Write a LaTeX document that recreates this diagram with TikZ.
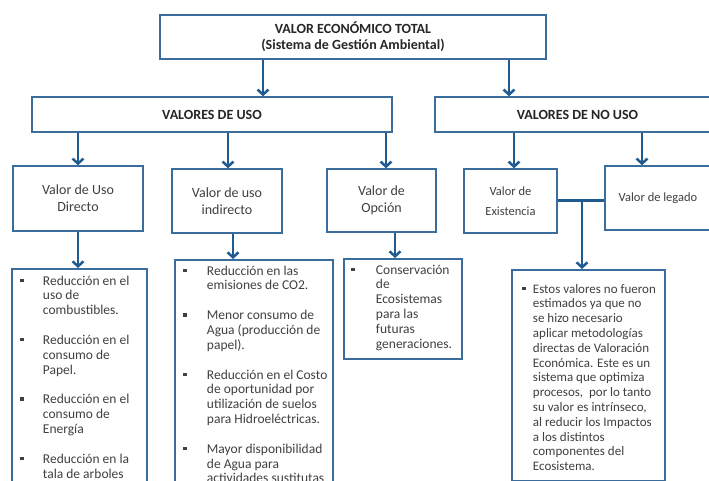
\documentclass[tikz,border=0pt]{standalone}
\usepackage{fontspec}
\setmainfont{Carlito}
\usetikzlibrary{arrows.meta}
\definecolor{boxblue}{HTML}{3A6D9B}
\definecolor{arrowblue}{HTML}{1F5A91}
\definecolor{txtgray}{HTML}{404040}
\newcommand{\bul}{\rule[3pt]{3.5pt}{3.5pt}}
\begin{document}
\begin{tikzpicture}[x=1pt,y=-1pt,
    box/.style={draw=boxblue, line width=1.5pt, fill=white, align=center, text=txtgray, inner sep=0pt},
    head/.style={box, font=\fontsize{14}{16}\selectfont\bfseries, text=black!85},
    sub/.style={box, font=\fontsize{14}{17}\selectfont},
    arr/.style={draw=arrowblue, line width=2.5pt, -{Straight Barb[length=5pt,width=11pt]}},
    lst/.style={anchor=base west, inner sep=0pt, align=left, text=txtgray, font=\fontsize{13.5}{14.8}\selectfont}]
  \useasboundingbox (0,0) rectangle (709,481);
  % nivel 1 y 2
  \node[head, minimum width=386, minimum height=44] (total) at (353,37) {VALOR ECONÓMICO TOTAL\\(Sistema de Gestión Ambiental)};
  \node[head, minimum width=360, minimum height=35] (uso) at (212,114.5) {VALORES DE USO};
  \node[head, minimum width=285, minimum height=35] (nouso) at (577.5,114.5) {VALORES DE NO USO};
  % nivel 3
  \node[sub, minimum width=130, minimum height=65] (directo) at (78,198.5) {Valor de Uso\\Directo};
  \node[sub, minimum width=110, minimum height=64] (indirecto) at (227,201) {Valor de uso\\indirecto};
  \node[sub, minimum width=109, minimum height=63] (opcion) at (381.5,200.5) {Valor de\\Opción};
  \node[box, minimum width=93, minimum height=64, font=\fontsize{12.5}{20}\selectfont] (existencia) at (510.5,201) {Valor de\\Existencia};
  \node[box, minimum width=106, minimum height=64, font=\fontsize{12.5}{15}\selectfont] (legado) at (658,198) {Valor de legado};
  % listas
  \node[box, minimum width=135, minimum height=240, anchor=north west] (ldirecto) at (11,268) {};
  \node[box, minimum width=158, minimum height=250, anchor=north west] (lindirecto) at (174,259) {};
  \node[box, minimum width=118, minimum height=100, anchor=north west] (lopcion) at (343,258) {};
  \node[box, minimum width=153, minimum height=211, anchor=north west] (lnouso) at (511,269) {};
  \node[lst] (tdirecto) at ([xshift=9.25pt,yshift=-17pt]ldirecto.north west) {\begin{tabular}[t]{@{}l@{\hspace{19pt}}l@{}}
    \bul & Reducción en el\\ & uso de\\ & combustibles.\\[15pt]
    \bul & Reducción en el\\ & consumo de\\ & Papel.\\[15pt]
    \bul & Reducción en el\\ & consumo de\\ & Energía\\[15pt]
    \bul & Reducción en la\\ & tala de arboles
  \end{tabular}};
  \node[lst] (tindirecto) at ([xshift=9.25pt,yshift=-16pt]lindirecto.north west) {\begin{tabular}[t]{@{}l@{\hspace{20pt}}l@{}}
    \bul & Reducción en las\\ & emisiones de CO2.\\[15pt]
    \bul & Menor consumo de\\ & Agua (producción de\\ & papel).\\[15pt]
    \bul & Reducción en el Costo\\ & de oportunidad por\\ & utilización de suelos\\ & para Hidroeléctricas.\\[15pt]
    \bul & Mayor disponibilidad\\ & de Agua para\\ & actividades sustitutas
  \end{tabular}};
  \node[lst] (topcion) at ([xshift=8.25pt,yshift=-16pt]lopcion.north west) {\begin{tabular}[t]{@{}l@{\hspace{21pt}}l@{}}
    \bul & Conservación\\ & de\\ & Ecosistemas\\ & para las\\ & futuras\\ & generaciones.
  \end{tabular}};
  \node[lst, font=\fontsize{13}{14.8}\selectfont] (tnouso) at ([xshift=11.25pt,yshift=-24pt]lnouso.north west) {\begin{tabular}[t]{@{}l@{\hspace{7pt}}l@{}}
    \bul & Estos valores no fueron\\ & estimados ya que no\\ & se hizo necesario\\ & aplicar metodologías\\
    & directas de Valoración\\ & Económica. Este es un\\ & sistema que optimiza\\ & procesos,~ por lo tanto\\
    & su valor es intrínseco,\\ & al reducir los Impactos\\ & a los distintos\\ & componentes del\\ & Ecosistema.
  \end{tabular}};
  % conectores
  \draw[arr] (total.south -| 263,0) -- (uso.north -| 263,0);
  \draw[arr] (total.south -| 509,0) -- (nouso.north -| 509,0);
  \draw[arr] (uso.south -| directo.north) -- (directo.north);
  \draw[arr] (uso.south -| 228,0) -- (indirecto.north -| 228,0);
  \draw[arr] (uso.south -| 386,0) -- (opcion.north -| 386,0);
  \draw[arr] (nouso.south -| 514,0) -- (existencia.north -| 514,0);
  \draw[arr] (nouso.south -| 642,0) -- (legado.north -| 642,0);
  \draw[arr] (directo.south) -- (ldirecto.north -| directo.south);
  \draw[arr] (indirecto.south -| 233,0) -- (lindirecto.north -| 233,0);
  \draw[arr] (opcion.south -| 395,0) -- (lopcion.north -| 395,0);
  \coordinate (junta) at (582,200.5);
  \draw[draw=arrowblue, line width=2.5pt] (existencia.east |- junta) -- (legado.west |- junta);
  \draw[arr] (junta) -- (lnouso.north -| junta);
\end{tikzpicture}
\end{document}
